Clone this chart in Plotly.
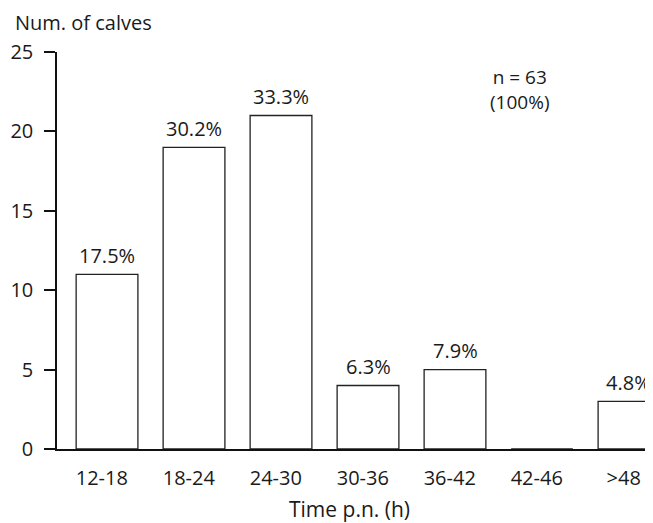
import plotly.graph_objects as go

categories = ["12-18", "18-24", "24-30", "30-36", "36-42", "42-46", ">48"]
calves = [11, 19, 21, 4, 5, 0, 3]
pct_labels = ["17.5%", "30.2%", "33.3%", "6.3%", "7.9%", "", "4.8%"]
y_ticks = [0, 5, 10, 15, 20, 25]

FONT = "Open Sans"
TXT = "#1a1a1a"
FS = 20

fig = go.Figure()
fig.add_trace(go.Bar(
    x=list(range(len(categories))), y=calves,
    marker=dict(color="white", line=dict(color="#222", width=1.3)),
    width=0.71, showlegend=False, hoverinfo="skip",
))

for i, (v, t) in enumerate(zip(calves, pct_labels)):
    if t:
        fig.add_annotation(x=i, y=v, text=t, showarrow=False, yanchor="middle",
                           yshift=19, font=dict(family=FONT, size=FS, color=TXT))

fig.add_annotation(xref="paper", yref="paper", x=0.831, y=1, yshift=-37, text="n = 63<br>(100%)",
                   showarrow=False, yanchor="middle", align="center",
                   font=dict(family=FONT, size=FS - 1, color=TXT))
fig.add_annotation(xref="paper", yref="paper", x=-0.074, y=1, yshift=30,
                   text="Num. of calves", showarrow=False, xanchor="left", yanchor="middle",
                   font=dict(family=FONT, size=FS, color=TXT))
fig.add_annotation(xref="paper", yref="paper", x=0.4916, y=0, yshift=-60,
                   text="Time p.n. (h)", showarrow=False, yanchor="middle",
                   font=dict(family=FONT, size=21, color=TXT))

fig.update_layout(
    width=645, height=515,
    margin=dict(l=49, r=0, t=44, b=74),
    plot_bgcolor="white", paper_bgcolor="white",
    font=dict(family=FONT, size=FS, color=TXT),
    xaxis=dict(
        range=[-0.575, 6.276], tickmode="array",
        tickvals=[i - 0.06 for i in range(len(categories))],
        ticktext=categories, ticks="", showgrid=False, zeroline=False,
        showline=True, linecolor="#111", linewidth=1.5, ticklabelstandoff=10,
        tickfont=dict(family=FONT, size=FS, color=TXT),
    ),
    yaxis=dict(
        range=[0, 25], tickmode="array", tickvals=y_ticks, ticks="outside",
        ticklen=11, tickwidth=1.5, tickcolor="#111", showgrid=False, zeroline=False,
        showline=True, linecolor="#111", linewidth=1.5, ticklabelstandoff=7,
        tickfont=dict(family=FONT, size=FS, color=TXT),
    ),
)

fig.write_html("out.html")
